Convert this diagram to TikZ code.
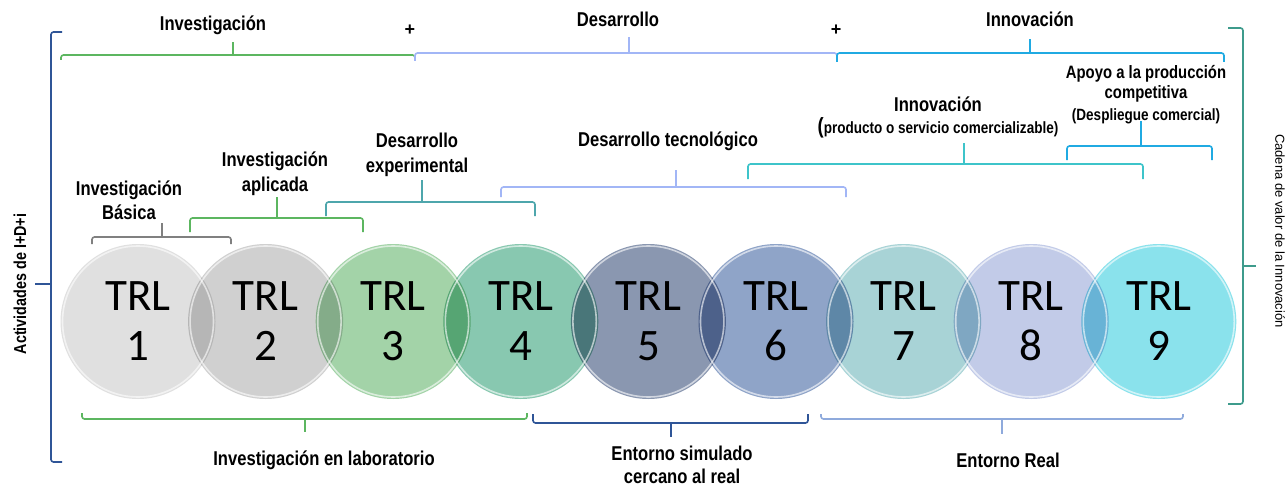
\documentclass[tikz,border=0pt]{standalone}
\usepackage{fontspec}
\newfontfamily\lbl[FakeStretch=0.83]{Liberation Sans}
\newfontfamily\lblr{Liberation Sans}
\newfontfamily\trl{Carlito}
\definecolor{cA}{RGB}{224,224,224}
\definecolor{cB}{RGB}{208,208,208}
\definecolor{cC}{RGB}{163,211,168}
\definecolor{cD}{RGB}{136,200,176}
\definecolor{cE}{RGB}{138,151,176}
\definecolor{cF}{RGB}{143,164,200}
\definecolor{cG}{RGB}{168,211,214}
\definecolor{cH}{RGB}{194,203,232}
\definecolor{cI}{RGB}{138,226,236}
\definecolor{bgreen}{RGB}{92,182,96}
\definecolor{blav}{RGB}{162,182,246}
\definecolor{bcyan}{RGB}{32,170,226}
\definecolor{bteal}{RGB}{78,166,172}
\definecolor{bturq}{RGB}{62,196,202}
\definecolor{bgray}{RGB}{128,128,128}
\definecolor{bdark}{RGB}{47,85,151}
\definecolor{blight}{RGB}{143,170,220}
\definecolor{bright}{RGB}{62,155,140}
\newcommand\hbrk[7]{% color, x1, x2, y, hooky, tipx, tipy
  \draw[brk,#1] (#2,#5) -- (#2,#4) -- (#3,#4) -- (#3,#5);
  \draw[brk,#1,rounded corners=0pt] (#6,#4) -- (#6,#7);}
\begin{document}
\begin{tikzpicture}[x=1pt,y=-1pt,
  brk/.style={line width=1.6pt, rounded corners=2.5pt},
  lab/.style={font=\lbl\bfseries\fontsize{20}{25}\selectfont, anchor=base, inner sep=0},
  labs/.style={font=\lbl\bfseries\fontsize{17.9}{22}\selectfont, anchor=base, inner sep=0},
  small/.style={font=\lbl\bfseries\fontsize{16.3}{20}\selectfont, anchor=base, inner sep=0},
  plus/.style={font=\lblr\bfseries\fontsize{18}{20}\selectfont, anchor=base, inner sep=0},
  trlc/.style={circle, minimum size=155pt, inner sep=0, font=\trl\fontsize{45}{50}\selectfont, align=center},
  rim/.style={white, line width=1.6pt, draw opacity=0.6}
]
\useasboundingbox (0,0) rectangle (1288,487);
\fill[white] (0,0) rectangle (1288,487);

% circles
\begin{scope}[blend mode=multiply]
\node[trlc, fill=cA] (c1) at (138.0,321.5) {TRL\\1};
\node[trlc, fill=cB] (c2) at (265.6,321.5) {TRL\\2};
\node[trlc, fill=cC] (c3) at (393.2,321.5) {TRL\\3};
\node[trlc, fill=cD] (c4) at (520.8,321.5) {TRL\\4};
\node[trlc, fill=cE] (c5) at (648.4,321.5) {TRL\\5};
\node[trlc, fill=cF] (c6) at (776.0,321.5) {TRL\\6};
\node[trlc, fill=cG] (c7) at (903.6,321.5) {TRL\\7};
\node[trlc, fill=cH] (c8) at (1031.2,321.5) {TRL\\8};
\node[trlc, fill=cI] (c9) at (1158.8,321.5) {TRL\\9};
\end{scope}
\foreach \i in {1,...,9}{
  \draw[rim] (c\i.center) circle (75.5pt);
}

% left brace
\draw[brk,bdark] (62,32) -- (51,32) -- (51,462) -- (62,462);
\draw[brk,bdark,rounded corners=0pt] (51,284) -- (35,284);
\node[font=\lbl\bfseries\fontsize{17.3}{20}\selectfont, rotate=90, inner sep=0] (act) at (20,284) {Actividades de I+D+i};

% right brace
\draw[brk,bright] (1228,28) -- (1243,28) -- (1243,404) -- (1228,404);
\draw[brk,bright,rounded corners=0pt] (1243,266) -- (1256,266);
\node[font=\lblr\fontsize{13}{16}\selectfont, rotate=-90, inner sep=0] (cad) at (1280,231) {Cadena de valor de la Innovación};

% top level
\node[lab] (inv) at (213,31) {Investigación};
\node[plus] (p1) at (410,36) {+};
\node[lab] (des) at (618,27) {Desarrollo};
\node[plus] (p2) at (836,36) {+};
\node[lab] (inn) at (1030,27) {Innovación};
\hbrk{bgreen}{61}{415}{55}{60}{233}{42}
\hbrk{blav}{415}{837}{53}{61}{629}{37}
\hbrk{bcyan}{837}{1224}{53}{62}{1030}{39}

% second level
\node[lab] (ib1) at (129,195) {Investigación};
\node[lab] (ib2) at (129,219) {Básica};
\hbrk{bgray}{92}{231}{237}{244}{162}{223}
\node[lab] (ia1) at (275,166) {Investigación};
\node[lab] (ia2) at (275,191) {aplicada};
\hbrk{bgreen}{190}{363}{218}{232}{277}{197}
\node[lab] (de1) at (417,147) {Desarrollo};
\node[lab] (de2) at (417,172) {experimental};
\hbrk{bteal}{326}{535}{202}{216}{422}{180}
\node[lab] (dt) at (668,146) {Desarrollo tecnológico};
\hbrk{blav}{501}{846}{187}{197}{676}{170}
\node[lab] (in1) at (938,111) {Innovación};
\node[small] (in2) at (938,133) {{\fontsize{22}{22}\selectfont(}producto o servicio comercializable)};
\hbrk{bturq}{748}{1143}{164}{179}{964}{143}
\node[labs] (ap1) at (1146,78) {Apoyo a la producción};
\node[labs] (ap2) at (1146,99) {competitiva};
\node[small] (ap3) at (1146,120) {(Despliegue comercial)};
\hbrk{bcyan}{1067}{1212}{146}{160}{1141}{121}

% bottom
\hbrk{bgreen}{82}{527}{419}{413}{305}{432}
\node[lab] (lab) at (324,465) {Investigación en laboratorio};
\hbrk{bdark}{533}{808}{423}{414}{671}{437}
\node[lab] (es1) at (682,460) {Entorno simulado};
\node[lab] (es2) at (682,483) {cercano al real};
\hbrk{blight}{821}{1183}{419}{414}{1002}{434}
\node[lab] (er) at (1008,467) {Entorno Real};
\end{tikzpicture}
\end{document}
